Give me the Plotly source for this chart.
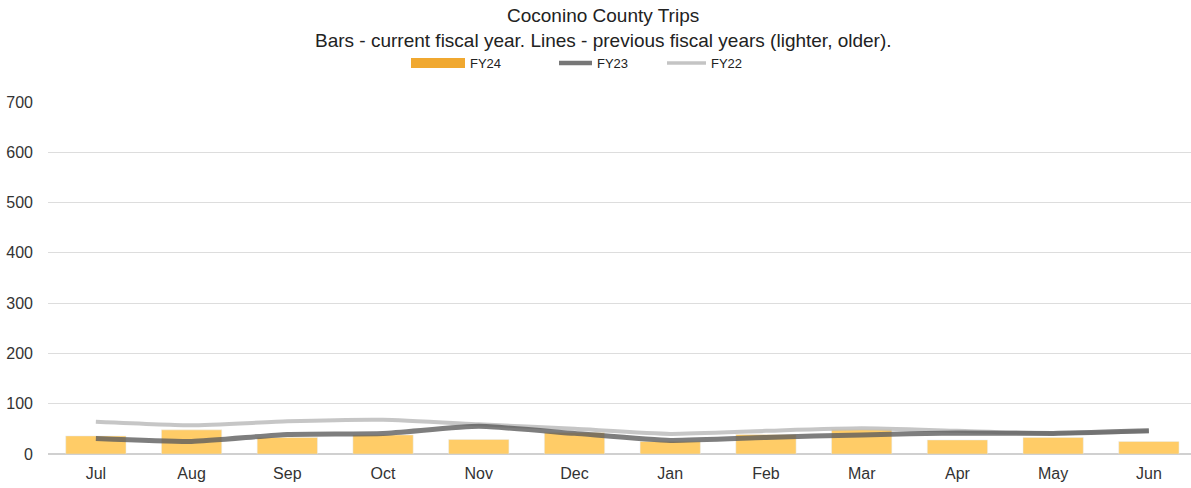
import plotly.graph_objects as go

months = ["Jul", "Aug", "Sep", "Oct", "Nov", "Dec", "Jan", "Feb", "Mar", "Apr", "May", "Jun"]
fy24 = [36, 48, 33, 38, 29, 43, 25, 39, 49, 28, 33, 25]
fy23 = [31, 25, 39, 41, 55, 41, 27, 33, 38, 42, 41, 46]
fy22 = [64, 57, 65, 68, 59, 50, 40, 46, 51, 46, 41, 45]
yticks = [0, 100, 200, 300, 400, 500, 600, 700]

title_main = "Coconino County Trips"
title_sub = "Bars - current fiscal year. Lines - previous fiscal years (lighter, older)."

fig = go.Figure()
fig.add_trace(go.Bar(x=months, y=fy24, name="FY24", marker=dict(color="#FFC44D", opacity=0.85),
                     showlegend=False))
fig.add_trace(go.Scatter(x=months, y=fy22, name="FY22", mode="lines",
                         line=dict(color="#BDBDBD", width=4, shape="spline", smoothing=0.5),
                         opacity=0.85, showlegend=False))
fig.add_trace(go.Scatter(x=months, y=fy23, name="FY23", mode="lines",
                         line=dict(color="#5E5E5E", width=5, shape="spline", smoothing=0.5),
                         opacity=0.8, showlegend=False))
# legend entries, each in its own legend box for exact placement
fig.add_trace(go.Scatter(x=[None], y=[None], name="FY24", mode="lines",
                         line=dict(color="#F0A830", width=10), legend="legend"))
fig.add_trace(go.Scatter(x=[None], y=[None], name="FY23", mode="lines",
                         line=dict(color="#777777", width=4.5), legend="legend2"))
fig.add_trace(go.Scatter(x=[None], y=[None], name="FY22", mode="lines",
                         line=dict(color="#C4C4C4", width=3.5), legend="legend3"))

leg_common = dict(orientation="h", xref="container", yref="container", y=1 - 63 / 488,
                  yanchor="middle", xanchor="left", font=dict(size=13, color="#222222"),
                  bgcolor="rgba(0,0,0,0)")

ann_common = dict(xref="paper", yref="paper", x=0.4856, xanchor="center", yanchor="middle",
                  showarrow=False, font=dict(size=19, color="#222222"))

fig.update_layout(
    width=1191, height=488,
    margin=dict(l=48, r=0, t=102, b=34),
    paper_bgcolor="white", plot_bgcolor="white",
    font=dict(family="Liberation Sans, Arial, sans-serif", color="#222222"),
    bargap=0.37,
    legend=dict(leg_common, x=(412 - 6) / 1191, itemwidth=54),
    legend2=dict(leg_common, x=(560 - 6) / 1191, itemwidth=33),
    legend3=dict(leg_common, x=(668 - 6) / 1191, itemwidth=39),
    annotations=[
        dict(ann_common, text=title_main, y=(454 - 16) / 352),
        dict(ann_common, text=title_sub, y=(454 - 40) / 352),
    ],
    xaxis=dict(showgrid=False, tickfont=dict(size=16, color="#333333"), ticks="",
               showline=False, ticklabelstandoff=8, range=[-0.5, 11.44]),
    yaxis=dict(range=[0, 700], tickvals=yticks, showgrid=True, gridcolor="#DDDDDD",
               tickfont=dict(size=16, color="#333333"), zeroline=True, zerolinecolor="#D0D0D0",
               ticklabelstandoff=14),
)
fig.write_html("out.html")
